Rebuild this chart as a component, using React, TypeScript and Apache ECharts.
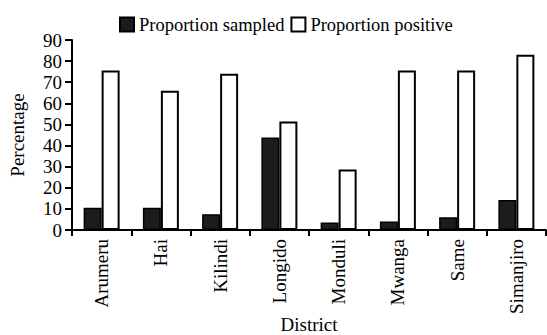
import React, { useEffect, useRef } from "react";
import * as echarts from "echarts";

const districts = ["Arumeru", "Hai", "Kilindi", "Longido", "Monduli", "Mwanga", "Same", "Simanjiro"];
const proportionSampled = [10.5, 10.5, 7.5, 43.8, 3.5, 4, 6, 14.2];
const proportionPositive = [75.5, 66, 74, 51.4, 28.6, 75.5, 75.5, 83];
const yTicks = { min: 0, max: 90, interval: 10 };

const FONT = "'Liberation Serif', 'Times New Roman', serif";

export default function App() {
  const ref = useRef<HTMLDivElement>(null);
  useEffect(() => {
    document.body.style.margin = "0";
    if (!ref.current) return;
    const chart = echarts.init(ref.current, undefined, { renderer: "svg" });
    chart.setOption({
      animation: false,
      backgroundColor: "#ffffff",
      textStyle: { fontFamily: FONT, color: "#000" },
      legend: {
        left: 114,
        top: 10,
        itemWidth: 14,
        itemHeight: 14,
        itemGap: 6,
        textStyle: { fontFamily: FONT, fontSize: 18.5, color: "#000" },
        data: [
          { name: "Proportion sampled", icon: "rect" },
          { name: "Proportion positive", icon: "rect" },
        ],
      },
      grid: { left: 72, right: 1, top: 40, bottom: 105, containLabel: false, outerBoundsMode: "none" },
      xAxis: {
        type: "category",
        data: districts,
        name: "District",
        nameLocation: "middle",
        nameGap: 85,
        nameMoveOverlap: false,
        nameTextStyle: { fontFamily: FONT, fontSize: 19, color: "#000" },
        axisLine: { lineStyle: { color: "#000", width: 2 } },
        axisTick: { show: true, length: 6, lineStyle: { color: "#000", width: 2 } },
        axisLabel: { rotate: 90, fontFamily: FONT, fontSize: 19, color: "#000", margin: 9 },
      },
      yAxis: {
        type: "value",
        min: yTicks.min,
        max: yTicks.max,
        interval: yTicks.interval,
        name: "Percentage",
        nameLocation: "middle",
        nameGap: 45,
        nameMoveOverlap: false,
        nameTextStyle: { fontFamily: FONT, fontSize: 19, color: "#000" },
        splitLine: { show: false },
        axisLine: { show: true, lineStyle: { color: "#000", width: 2 } },
        axisTick: { show: true, length: 7, lineStyle: { color: "#000", width: 2 } },
        axisLabel: { fontFamily: FONT, fontSize: 19, color: "#000", margin: 10 },
      },
      series: [
        {
          name: "Proportion sampled",
          type: "bar",
          data: proportionSampled,
          barWidth: 18,
          barGap: "0%",
          itemStyle: { color: "#1c1c1c", borderColor: "#000", borderWidth: 1.5 },
        },
        {
          name: "Proportion positive",
          type: "bar",
          data: proportionPositive,
          barWidth: 18,
          barGap: "0%",
          itemStyle: { color: "#ffffff", borderColor: "#000", borderWidth: 2 },
        },
      ],
    });
    return () => chart.dispose();
  }, []);
  return <div ref={ref} style={{ width: 547, height: 335 }} />;
}
